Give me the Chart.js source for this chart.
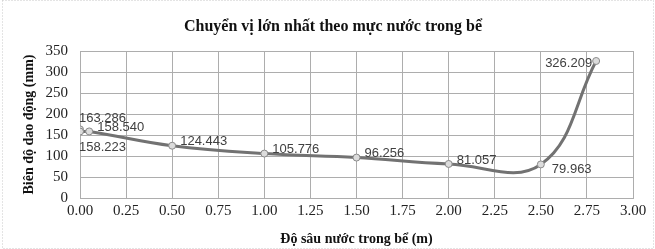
<!DOCTYPE html>
<html>
<head>
<meta charset="utf-8">
<script src="https://cdn.jsdelivr.net/npm/chart.js@4"></script>
<style>
  html, body { margin: 0; padding: 0; background: #fff; }
  #wrap { width: 655px; height: 249px; position: relative; }
</style>
</head>
<body>
<div id="wrap"><canvas id="chart" width="655" height="249"></canvas></div>
<script>
// --- Données ---
const depths = [0, 0, 0.05, 0.5, 1.0, 1.5, 2.0, 2.5, 2.8];
const amplitudes = [163.286, 158.223, 158.540, 124.443, 105.776, 96.256, 81.057, 79.963, 326.209];
const labelSides = ['above', 'below', 'right', 'right', 'right', 'right', 'right', 'belowRight', 'left'];
const xTicks = [0, 0.25, 0.5, 0.75, 1, 1.25, 1.5, 1.75, 2, 2.25, 2.5, 2.75, 3];

const SERIF = '"Liberation Serif", "Times New Roman", serif';
const GRID = '#adadad';

// Décalages des étiquettes par rapport au point (style Excel)
const LABEL_OFFSETS = {
  above:      { dx: -1, dy: -11, align: 'left' },
  below:      { dx: -1, dy: 16, align: 'left' },
  right:      { dx: 8,  dy: -4, align: 'left' },
  belowRight: { dx: 11, dy: 5,  align: 'left' },
  left:       { dx: -4, dy: 2,  align: 'right' }
};

const valueLabels = {
  id: 'valueLabels',
  afterDatasetsDraw(chart) {
    const ctx = chart.ctx;
    const meta = chart.getDatasetMeta(0);
    ctx.save();
    ctx.font = '13px "Liberation Sans", Arial, sans-serif';
    ctx.fillStyle = '#404040';
    ctx.textBaseline = 'middle';
    meta.data.forEach((pt, i) => {
      const o = LABEL_OFFSETS[labelSides[i]];
      ctx.textAlign = o.align;
      ctx.fillText(amplitudes[i].toFixed(3), pt.x + o.dx, pt.y + o.dy);
    });
    ctx.restore();
  }
};

// Bordure pointillée autour du graphique
const outerBorder = {
  id: 'outerBorder',
  afterDraw(chart) {
    const ctx = chart.ctx;
    ctx.save();
    ctx.strokeStyle = '#c8c8c8';
    ctx.setLineDash([1, 2]);
    ctx.lineWidth = 1;
    ctx.strokeRect(2.5, 0.5, chart.width - 4, chart.height - 1);
    ctx.restore();
  }
};

new Chart(document.getElementById('chart'), {
  type: 'line',
  data: {
    datasets: [{
      data: depths.map((d, i) => ({ x: d, y: amplitudes[i] })),
      borderColor: '#727272',
      borderWidth: 3,
      tension: 0.4,
      pointRadius: 3.5,
      pointBackgroundColor: '#dcdcdc',
      pointBorderColor: '#8a8a8a',
      pointBorderWidth: 1,
      fill: false
    }]
  },
  options: {
    responsive: false,
    animation: false,
    layout: { padding: { left: 11, right: 0, top: 0, bottom: 0 } },
    plugins: {
      legend: { display: false },
      tooltip: { enabled: false },
      title: {
        display: true,
        text: 'Chuyển vị lớn nhất theo mực nước trong bể',
        color: '#111',
        font: { family: SERIF, size: 16, weight: 'bold' },
        padding: { top: 17, bottom: 14.8 }
      }
    },
    scales: {
      x: {
        type: 'linear',
        min: 0,
        max: 3,
        afterBuildTicks: (scale) => { scale.ticks = xTicks.map(v => ({ value: v })); },
        afterFit: (scale) => { scale.height = 51; },
        grid: { color: GRID, drawTicks: false },
        border: { color: GRID },
        ticks: {
          padding: 4,
          color: '#222',
          font: { family: SERIF, size: 15 },
          maxRotation: 0,
          callback: (v) => Number(v).toFixed(2)
        },
        title: {
          display: true,
          text: 'Độ sâu nước trong bể (m)',
          color: '#111',
          font: { family: SERIF, size: 14, weight: 'bold' },
          padding: { top: 0, bottom: 1.6 }
        }
      },
      y: {
        min: 0,
        max: 350,
        afterFit: (scale) => { scale.width = 69; },
        grid: { color: GRID, drawTicks: false },
        border: { color: GRID },
        ticks: {
          stepSize: 50,
          padding: 12,
          color: '#222',
          font: { family: SERIF, size: 15 }
        },
        title: {
          display: true,
          text: 'Biên độ dao động (mm)',
          color: '#111',
          font: { family: SERIF, size: 14, weight: 'bold' },
          padding: 9.6
        }
      },
      // axe vide à droite pour laisser la marge et centrer le titre
      yRight: {
        position: 'right',
        afterFit: (scale) => { scale.width = 22; },
        grid: { display: false },
        border: { display: false },
        ticks: { display: false },
        title: { display: false }
      }
    }
  },
  plugins: [valueLabels, outerBorder]
});
</script>
</body>
</html>
